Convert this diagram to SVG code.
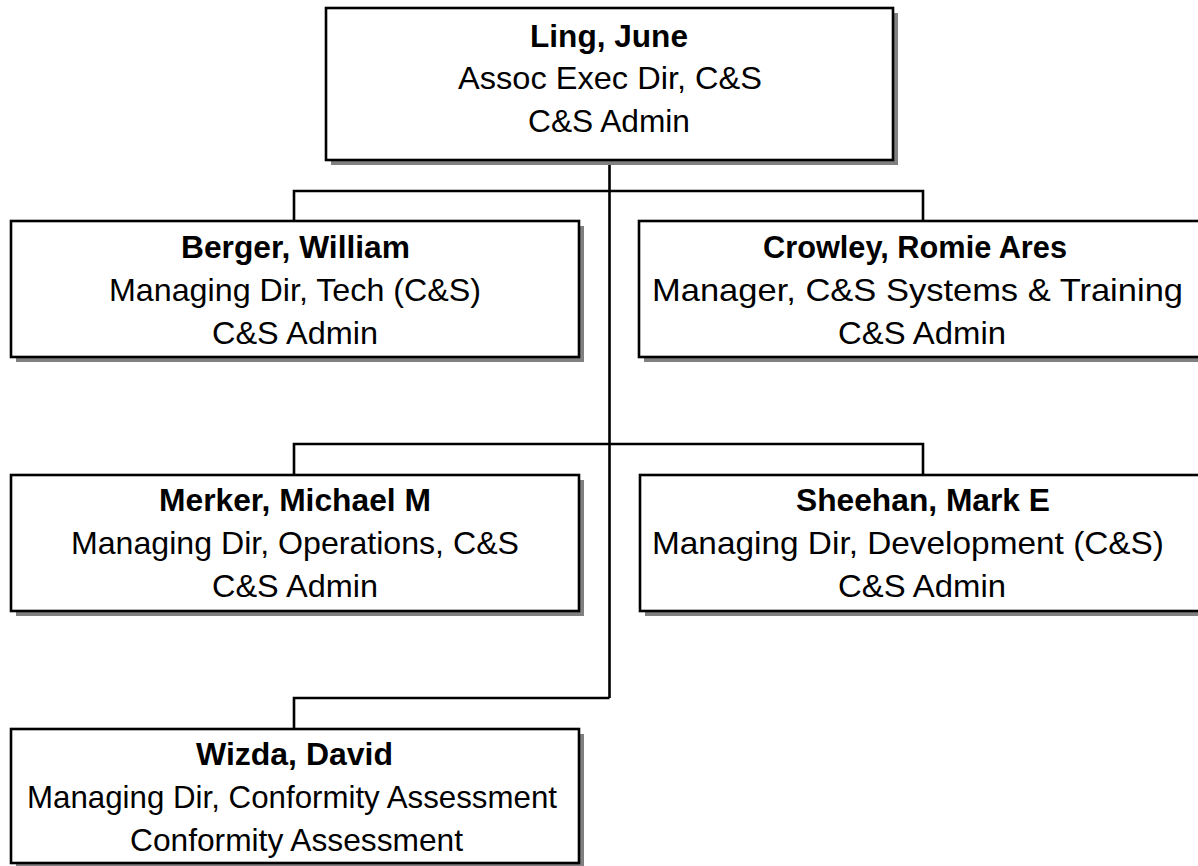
<svg xmlns="http://www.w3.org/2000/svg" width="1198" height="866" viewBox="0 0 1198 866">
<style>
.box{fill:#fff;stroke:#000;stroke-width:2.6}
.sh{fill:#808080}
.ln{fill:none;stroke:#000;stroke-width:2.6}
text{font-family:"Liberation Sans",Arial,sans-serif;font-size:31.5px;fill:#000;text-anchor:start}
.b{font-weight:bold}
</style>
<rect width="1198" height="866" fill="#fff"/>
<g id="connectors">
<path class="ln" d="M609.5,160 V698 M294,221 V191 H923 V221 M294,475 V444 H923 V475 M609.5,698 H294 V729"/>
</g>
<g id="ling">
<rect class="sh" x="331" y="13" width="567" height="152"/>
<rect class="box" x="326" y="8" width="567" height="152"/>
<text class="b" x="530" y="47" textLength="158" lengthAdjust="spacingAndGlyphs">Ling, June</text>
<text x="458" y="89" textLength="304" lengthAdjust="spacingAndGlyphs">Assoc Exec Dir, C&amp;S</text>
<text x="528" y="132" textLength="162" lengthAdjust="spacingAndGlyphs">C&amp;S Admin</text>
</g>
<g id="berger">
<rect class="sh" x="16" y="226" width="568" height="136"/>
<rect class="box" x="11" y="221" width="568" height="136"/>
<text class="b" x="181" y="258" textLength="229" lengthAdjust="spacingAndGlyphs">Berger, William</text>
<text x="109" y="301" textLength="372" lengthAdjust="spacingAndGlyphs">Managing Dir, Tech (C&amp;S)</text>
<text x="212" y="344" textLength="166" lengthAdjust="spacingAndGlyphs">C&amp;S Admin</text>
</g>
<g id="crowley">
<rect class="sh" x="644" y="226" width="568" height="136"/>
<rect class="box" x="639" y="221" width="568" height="136"/>
<text class="b" x="763" y="258" textLength="304" lengthAdjust="spacingAndGlyphs">Crowley, Romie Ares</text>
<text x="652" y="301" textLength="531" lengthAdjust="spacingAndGlyphs">Manager, C&amp;S Systems &amp; Training</text>
<text x="838" y="344" textLength="168" lengthAdjust="spacingAndGlyphs">C&amp;S Admin</text>
</g>
<g id="merker">
<rect class="sh" x="16" y="480" width="568" height="136"/>
<rect class="box" x="11" y="475" width="568" height="136"/>
<text class="b" x="159" y="511" textLength="272" lengthAdjust="spacingAndGlyphs">Merker, Michael M</text>
<text x="71" y="554" textLength="448" lengthAdjust="spacingAndGlyphs">Managing Dir, Operations, C&amp;S</text>
<text x="212" y="597" textLength="166" lengthAdjust="spacingAndGlyphs">C&amp;S Admin</text>
</g>
<g id="sheehan">
<rect class="sh" x="645" y="480" width="568" height="136"/>
<rect class="box" x="640" y="475" width="568" height="136"/>
<text class="b" x="796" y="511" textLength="254" lengthAdjust="spacingAndGlyphs">Sheehan, Mark E</text>
<text x="652" y="554" textLength="512" lengthAdjust="spacingAndGlyphs">Managing Dir, Development (C&amp;S)</text>
<text x="838" y="597" textLength="168" lengthAdjust="spacingAndGlyphs">C&amp;S Admin</text>
</g>
<g id="wizda">
<rect class="sh" x="16" y="734" width="568" height="134"/>
<rect class="box" x="11" y="729" width="568" height="134"/>
<text class="b" x="196" y="765" textLength="197" lengthAdjust="spacingAndGlyphs">Wizda, David</text>
<text x="27" y="808" textLength="530" lengthAdjust="spacingAndGlyphs">Managing Dir, Conformity Assessment</text>
<text x="130" y="851" textLength="333" lengthAdjust="spacingAndGlyphs">Conformity Assessment</text>
</g>
</svg>
